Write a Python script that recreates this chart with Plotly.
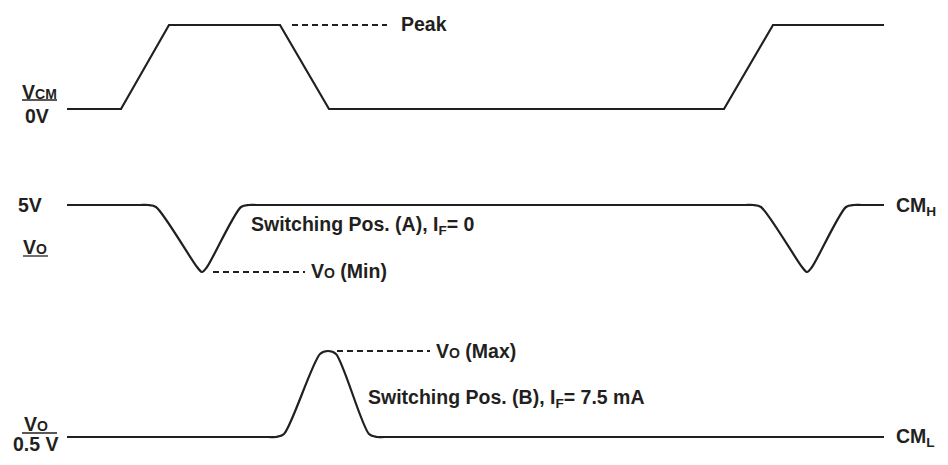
import plotly.graph_objects as go

# Common-mode input pulse V_CM (time in px-like units, level in same units; y grows downward)
cm_t = [67, 121, 169, 280, 329, 724, 773, 884]
cm_y = [109, 109, 25, 25, 109, 109, 25, 25]

# Output V_O, switching pos. (A): high level with dips
vh_t = [67, 140, 148, 156, 197, 202, 207, 241, 249, 257, 745, 753, 761, 802, 807, 812, 846, 854, 862, 884]
vh_y = [205, 205, 205, 207, 267, 272, 267, 207, 205, 205, 205, 205, 207, 267, 272, 267, 207, 205, 205, 205]

# Output V_O, switching pos. (B): low level with spike
vl_t = [67, 268, 276, 284, 320, 328, 336, 369, 377, 385, 884]
vl_y = [437, 437, 437, 434, 354, 351, 354, 434, 437, 437, 437]

# Reference dashed markers
peak_t = [292, 387]; peak_y = [25, 25]
vmin_t = [213, 305]; vmin_y = [272, 272]
vmax_t = [337, 430]; vmax_y = [351, 351]

INK = "#231f20"
FONT = "Liberation Sans, Arial, Helvetica, sans-serif"
FS = 19.5

fig = go.Figure()
fig.add_trace(go.Scatter(x=cm_t, y=cm_y, mode="lines", line=dict(color=INK, width=2.2), hoverinfo="skip"))
fig.add_trace(go.Scatter(x=vh_t, y=vh_y, mode="lines", line=dict(color=INK, width=2.2, shape="spline", smoothing=0.8), hoverinfo="skip"))
fig.add_trace(go.Scatter(x=vl_t, y=vl_y, mode="lines", line=dict(color=INK, width=2.2, shape="spline", smoothing=0.8), hoverinfo="skip"))
for tx, ty in [(peak_t, peak_y), (vmin_t, vmin_y), (vmax_t, vmax_y)]:
    fig.add_trace(go.Scatter(x=tx, y=ty, mode="lines", line=dict(color=INK, width=1.8, dash="6px,4px"), hoverinfo="skip"))

def label(x, y, text, anchor="left", size=FS):
    fig.add_annotation(x=x, y=y, text=text, showarrow=False, xanchor=anchor, yanchor="middle",
                       font=dict(family=FONT, size=size, color=INK), xref="x", yref="y")

S = '<span style="font-size:14px">'
label(399, 24, "<b>Peak</b>")
label(39, 92, f"<b>V{S}CM</span></b>", anchor="center")
label(37, 116, "<b>0V</b>", anchor="center")
label(30, 205, "<b>5V</b>", anchor="center")
label(35, 247, f"<b>V{S}O</span></b>", anchor="center")
label(249, 225, "<b>Switching Pos. (A), I<sub>F</sub>= 0</b>")
label(309, 271, f"<b>V{S}O</span> (Min)</b>")
label(894, 206, "<b>CM<sub>H</sub></b>")
label(434, 351, f"<b>V{S}O</span> (Max)</b>")
label(366, 398, "<b>Switching Pos. (B), I<sub>F</sub>= 7.5 mA</b>")
label(894, 437, "<b>CM<sub>L</sub></b>")
label(36, 424, f"<b>V{S}O</span></b>", anchor="center")
label(36, 444, "<b>0.5 V</b>", anchor="center")

# fraction / underline bars of the level labels
for x0, x1, y in [(22, 57, 100), (23, 48, 256), (22, 57, 433)]:
    fig.add_shape(type="line", x0=x0, x1=x1, y0=y, y1=y, line=dict(color=INK, width=1.3), xref="x", yref="y")

fig.update_layout(
    width=948, height=465, margin=dict(l=0, r=0, t=0, b=0),
    paper_bgcolor="white", plot_bgcolor="white", showlegend=False,
    xaxis=dict(range=[0, 948], visible=False, fixedrange=True),
    yaxis=dict(range=[465, 0], visible=False, fixedrange=True),
)
fig.write_html("out.html", config={"displayModeBar": False},
               post_script="document.body.style.margin='0';")
